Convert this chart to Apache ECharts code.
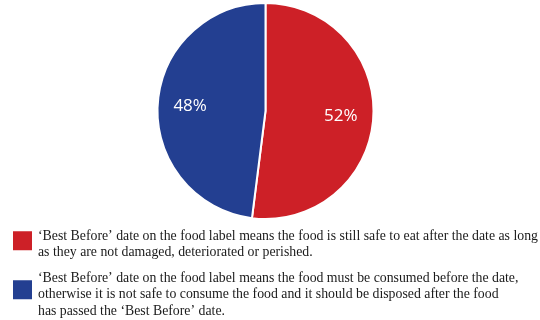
<!DOCTYPE html>
<html>
<head>
<meta charset="utf-8">
<script src="https://cdn.jsdelivr.net/npm/echarts@6/dist/echarts.min.js"></script>
<style>
  html, body { margin: 0; padding: 0; background: #fff; }
  #chart { width: 540px; height: 320px; }
</style>
</head>
<body>
<div id="chart"></div>
<script>
// Answers about the meaning of the 'Best Before' date
const categories = [
  "‘Best Before’ date on the food label means the food is still safe to eat after the date as long\nas they are not damaged, deteriorated or perished.",
  "‘Best Before’ date on the food label means the food must be consumed before the date,\notherwise it is not safe to consume the food and it should be disposed after the food\nhas passed the ‘Best Before’ date."
];
const shares = [52, 48];
const sliceColors = ["#cd2027", "#233f91"];

const pieData = categories.map((name, i) => ({
  name: name,
  value: shares[i],
  itemStyle: { color: sliceColors[i] }
}));

// one legend block per answer; a thin spacer line above the text lifts the
// square towards the first line instead of centring it on the whole block
function legendFor(name, top, spacer) {
  return {
    orient: 'vertical',
    left: 11,
    top: top,
    height: 120,
    padding: 0,
    itemWidth: 21,
    itemHeight: 21,
    icon: 'rect',
    selectedMode: false,
    data: [name],
    formatter: n => '{s| }\n' + n,
    textStyle: {
      fontFamily: 'Liberation Serif',
      fontSize: 13.8,
      lineHeight: 16.5,
      color: '#1a1a1a',
      rich: {
        s: { fontSize: 1, lineHeight: spacer, height: spacer }
      }
    }
  };
}

const chart = echarts.init(document.getElementById('chart'), null, { renderer: 'canvas' });
chart.setOption({
  animation: false,
  backgroundColor: '#ffffff',
  legend: [
    legendFor(categories[0], 220.5, 7.5),
    legendFor(categories[1], 260, 10)
  ],
  series: [
    {
      type: 'pie',
      center: [265.5, 111],
      radius: [0, 108],
      startAngle: 90,
      clockwise: true,
      silent: true,
      label: { show: false },
      labelLine: { show: false },
      itemStyle: { borderColor: '#ffffff', borderWidth: 2 },
      data: pieData
    },
    {
      // label ring: places the percentages at ~2/3 of the radius
      type: 'pie',
      center: [265.5, 111],
      radius: [0, 145],
      startAngle: 90,
      clockwise: true,
      silent: true,
      legendHoverLink: false,
      itemStyle: { color: 'rgba(0,0,0,0)' },
      label: {
        show: true,
        position: 'inside',
        formatter: '{c}%',
        color: '#ffffff',
        fontFamily: 'Open Sans',
        fontSize: 17
      },
      labelLine: { show: false },
      data: categories.map((name, i) => ({ name: name, value: shares[i] }))
    }
  ]
});
</script>
</body>
</html>
